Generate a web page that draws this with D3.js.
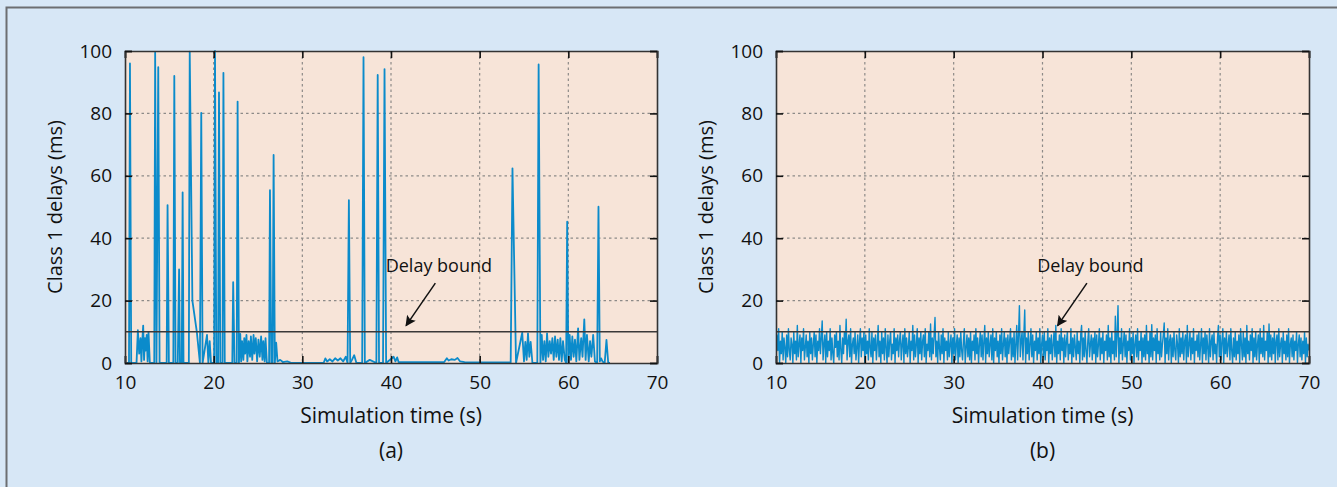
<!DOCTYPE html>
<html>
<head>
<meta charset="utf-8">
<script src="https://cdn.jsdelivr.net/npm/d3@7"></script>
<style>
  body { margin: 0; background: #d7e7f6; overflow: hidden; }
  text { font-family: "Open Sans", sans-serif; fill: #111; }
</style>
</head>
<body>
<script>
// ---- data ----
var xTicks = [10, 20, 30, 40, 50, 60, 70];
var yTicks = [0, 20, 40, 60, 80, 100];
var delayBound = 10;
var panelLabels = ["(a)", "(b)"];
var xTitle = "Simulation time (s)";
var yTitle = "Class 1 delays (ms)";
var boundText = "Delay bound";
var boundLabelAt = [45.4, 31];
var arrowFrom = [45.0, 25.6];
var arrowTo = [41.7, 12];

// (a) sparse delays with big spikes
var timesA = [10.2, 10.45, 10.56, 10.7, 11.3, 11.45, 11.6, 11.75, 11.85, 11.95, 12.05, 12.15, 12.25, 12.35, 12.45, 12.55, 12.65, 12.8,
  13.3, 13.4, 13.55, 13.75, 13.9, 14.7, 14.8, 14.95, 15.45, 15.56, 15.7, 15.95, 16.1, 16.2, 16.4, 16.5, 16.6,
  17.2, 17.3, 17.6, 18.1, 18.45, 18.6, 18.75, 19.25, 19.4, 19.55, 19.7, 20.05, 20.15, 20.3, 20.5, 20.6, 20.75,
  21.0, 21.1, 21.25, 22.1, 22.2, 22.35, 22.6, 22.7, 22.85, 23.0, 23.1, 23.2, 23.35, 23.45, 23.55, 23.7, 23.8,
  23.95, 24.1, 24.2, 24.35, 24.5, 24.6, 24.75, 24.9, 25.05, 25.2, 25.35, 25.5, 25.6, 25.75, 25.85, 26.0,
  26.25, 26.35, 26.5, 26.65, 26.76, 26.9, 27.05, 27.2, 27.5, 27.8, 28.3, 28.8, 29.2, 32.4, 32.6, 32.8, 33.1,
  33.4, 33.7, 34.0, 34.3, 34.6, 34.9, 35.1, 35.25, 35.4, 35.6, 35.85, 36.1, 36.75, 36.9, 37.05, 37.6, 38.35,
  38.5, 38.65, 39.1, 39.27, 39.45, 40.3, 40.5, 40.7, 40.85, 41.2, 46.0, 46.3, 46.5, 46.8, 47.2, 47.5, 47.8,
  48.3, 53.5, 53.7, 54.1, 54.8, 55.0, 55.15, 55.3, 55.45, 55.6, 55.75, 55.95, 56.5, 56.65, 56.85, 57.0, 57.15,
  57.3, 57.45, 57.6, 57.75, 57.9, 58.05, 58.2, 58.35, 58.5, 58.65, 58.8, 58.95, 59.1, 59.25, 59.4, 59.6, 59.75,
  59.87, 60.0, 60.15, 60.3, 60.45, 60.6, 60.75, 60.9, 61.1, 61.25, 61.45, 61.6, 61.8, 61.95, 62.1, 62.3, 62.45,
  62.6, 62.8, 63.0, 63.25, 63.4, 63.55, 63.7, 63.85, 64.1, 64.3, 64.5, 64.7];
var delaysA = [0, 0, 96, 0, 0, 10.5, 3, 8, 0.5, 7, 12, 1, 8, 4, 9, 0.5, 10, 0,
  0, 99.5, 0, 94.8, 0, 0, 50.6, 0, 0, 92, 0, 0, 30, 0, 0, 54.7, 0,
  0, 99.8, 20, 10, 0, 80.2, 0, 9, 0, 7, 0, 0, 100, 0, 0, 86.7, 0,
  0, 93, 0, 0, 25.9, 0, 0, 83.8, 0, 9.3, 0.5, 7, 1, 8, 3, 9, 0.5,
  7, 2, 8.5, 1, 9, 3, 8, 0.5, 7.5, 2, 8.5, 1, 7, 0.5, 8, 0,
  0, 55.4, 0, 0, 66.7, 0, 6.5, 0.5, 1, 0.3, 0.5, 0, 0, 0, 1.5, 0.5, 1.2,
  0.5, 1.5, 0.8, 1.5, 0.5, 2, 0, 52.2, 0, 1, 2.5, 0, 0, 98, 0, 1, 0,
  92.3, 0, 0, 94.2, 0, 2, 0.5, 1.8, 0.3, 0.3, 0.3, 1.5, 0.8, 1.2, 1, 1.6, 0.5,
  0.3, 0.2, 62.4, 0, 9.7, 0.5, 6.8, 1, 9.5, 2, 6.8, 0, 0, 95.7, 0, 9, 1,
  7, 0.5, 9.5, 2, 7, 3, 8, 1, 8.5, 2, 7.5, 1, 8, 0.5, 7, 1, 0,
  45.3, 0, 9, 1, 8.5, 2, 7.5, 0.5, 11.1, 1, 8, 2, 14, 1, 9, 0.5, 7,
  2, 9, 0.5, 0, 50.1, 0.5, 1.5, 0.5, 0, 7.4, 0, 0];

// (b) dense delays, one sample every 0.1 s from 10 s (one row = 2 s)
var sampleStartB = 10, sampleStepB = 0.1;
var delaysB = [
  2, 9, 4, 11, 0, 7, 3, 10, 1, 8, 5, 0, 9, 2, 11, 4, 1, 8, 6, 0,
  10, 3, 7, 1, 12, 2, 6, 9, 0, 8, 4, 11, 1, 5, 9, 2, 7, 0, 10, 3,
  8, 1, 6, 10, 2, 9, 0, 7, 4, 11, 3, 8, 13.5, 1, 6, 9, 0, 10, 2, 7,
  4, 11, 1, 8, 3, 0, 9, 5, 10, 2, 7, 1, 12, 4, 0, 8, 3, 10, 6, 14,
  1, 7, 9, 2, 11, 0, 6, 8, 3, 10, 1, 5, 9, 0, 7, 11, 2, 8, 4, 10,
  0, 9, 3, 7, 1, 11, 5, 2, 10, 0, 8, 4, 9, 1, 6, 12, 2, 7, 0, 10,
  3, 8, 1, 11, 5, 0, 9, 2, 7, 10, 1, 6, 3, 11, 0, 8, 4, 9, 2, 7,
  10, 1, 6, 9, 0, 11, 3, 8, 2, 5, 10, 0, 7, 4, 12, 1, 9, 2, 6, 11,
  0, 8, 3, 10, 1, 7, 9, 2, 11, 0, 6, 4, 10, 2, 12.5, 1, 8, 3, 9, 14.6,
  2, 7, 0, 10, 5, 1, 9, 3, 11, 0, 8, 4, 7, 1, 10, 2, 6, 9, 0, 8,
  3, 11, 1, 6, 9, 0, 8, 2, 10, 4, 1, 7, 11, 0, 5, 9, 2, 8, 1, 10,
  0, 7, 4, 9, 1, 11, 3, 8, 0, 6, 10, 2, 9, 1, 7, 12, 0, 8, 3, 10,
  2, 6, 9, 1, 11, 0, 8, 4, 10, 2, 7, 0, 9, 3, 11, 1, 6, 10, 2, 8,
  0, 9, 3, 7, 11, 1, 8, 2, 10, 0, 6, 12, 1, 9, 18.4, 2, 7, 10, 1, 9,
  17, 0, 8, 3, 10, 1, 6, 11, 2, 9, 0, 7, 4, 10, 1, 8, 3, 11, 0, 6,
  9, 2, 10, 1, 7, 4, 11, 0, 8, 3, 9, 1, 6, 10, 2, 12, 0, 7, 3, 9,
  1, 11, 4, 8, 0, 9, 2, 7, 10, 1, 6, 3, 11, 0, 8, 2, 9, 5, 1, 10,
  3, 7, 0, 9, 12, 1, 8, 2, 10, 4, 0, 7, 11, 2, 6, 9, 1, 8, 3, 10,
  0, 9, 2, 6, 11, 1, 8, 3, 10, 0, 7, 4, 9, 1, 12, 2, 8, 0, 10, 3,
  7, 1, 15, 2, 9, 18.4, 0, 8, 3, 11, 1, 6, 10, 2, 9, 0, 7, 4, 11, 1,
  8, 3, 10, 0, 6, 9, 2, 11, 1, 7, 4, 10, 0, 8, 2, 9, 1, 12, 3, 7,
  0, 10, 2, 12.3, 1, 8, 4, 9, 0, 11, 3, 7, 1, 10, 2, 6, 9, 12.8, 0, 8,
  3, 11, 1, 7, 9, 0, 8, 2, 10, 4, 1, 9, 6, 0, 11, 2, 8, 3, 10, 1,
  7, 9, 0, 12, 2, 6, 10, 1, 8, 3, 11, 0, 7, 4, 9, 2, 10, 1, 6, 11,
  0, 8, 3, 10, 1, 9, 5, 0, 11, 2, 7, 9, 1, 10, 3, 6, 0, 8, 12, 2,
  9, 1, 7, 11, 0, 8, 3, 10, 2, 6, 9, 1, 11, 4, 0, 8, 2, 10, 1, 7,
  3, 9, 0, 11, 6, 1, 10, 2, 8, 0, 12, 3, 7, 1, 9, 4, 11, 0, 8, 2,
  10, 1, 6, 9, 0, 11, 3, 8, 2, 12, 1, 7, 4, 10, 0, 12.5, 2, 9, 1, 8,
  3, 10, 0, 7, 9, 1, 11, 2, 6, 8, 0, 10, 3, 7, 1, 9, 2, 11, 0, 6,
  8, 2, 9, 1, 7, 4, 10, 0, 6, 9, 2, 8, 1, 7, 3, 10, 0, 8, 2, 6,
  4];

var seriesA = timesA.map(function(t, i){ return [t, delaysA[i]]; });
var seriesB = delaysB.map(function(v, i){ return [sampleStartB + i * sampleStepB, v]; });

var W = 1337, H = 487;
var svg = d3.select("body").append("svg").attr("width", W).attr("height", H);

// outer frame (cropped on right / bottom like the figure)
svg.append("rect").attr("x", 6.5).attr("y", 7.5).attr("width", W + 20).attr("height", H + 20)
   .attr("fill", "#d7e7f6").attr("stroke", "#6c6e71").attr("stroke-width", 2);

var defs = svg.append("defs");
defs.append("marker").attr("id", "arrowhead")
    .attr("viewBox", "0 0 10 10").attr("refX", 9).attr("refY", 5)
    .attr("markerWidth", 8).attr("markerHeight", 7).attr("orient", "auto")
  .append("path").attr("d", "M0,0 L10,5 L0,10 L2,5 z").attr("fill", "#111");

function styleAxis(sel){
  sel.select(".domain").attr("stroke", "#333").attr("stroke-width", 1.6);
  sel.selectAll(".tick line").attr("stroke", "#111").attr("stroke-width", 1.6);
  sel.selectAll(".tick text").style("font-size", "19px").attr("fill", "#111");
}

function buildPanel(series, left, right, label, id, lineWidth){
  var top = 51, bottom = 363;
  var x = d3.scaleLinear().domain([10, 70]).range([left, right]);
  var y = d3.scaleLinear().domain([0, 100]).range([bottom, top]);

  var g = svg.append("g");

  g.append("rect").attr("x", left).attr("y", top)
   .attr("width", right - left).attr("height", bottom - top)
   .attr("fill", "#f7e4d8");

  // dotted grid
  g.selectAll(".gx").data(xTicks.slice(1, -1)).enter().append("line")
   .attr("x1", function(d){ return x(d); }).attr("x2", function(d){ return x(d); })
   .attr("y1", top).attr("y2", bottom)
   .attr("stroke", "#8d8a88").attr("stroke-width", 1.2).attr("stroke-dasharray", "2.5,3");
  g.selectAll(".gy").data(yTicks.slice(1, -1)).enter().append("line")
   .attr("y1", function(d){ return y(d); }).attr("y2", function(d){ return y(d); })
   .attr("x1", left).attr("x2", right)
   .attr("stroke", "#8d8a88").attr("stroke-width", 1.2).attr("stroke-dasharray", "2.5,3");

  defs.append("clipPath").attr("id", "clip" + id)
    .append("rect").attr("x", left).attr("y", top - 1).attr("width", right - left).attr("height", bottom - top + 3);

  var line = d3.line().x(function(d){ return x(d[0]); }).y(function(d){ return y(d[1]); });
  g.append("path").datum(series).attr("d", line)
   .attr("clip-path", "url(#clip" + id + ")")
   .attr("fill", "none").attr("stroke", "#0b8bcb").attr("stroke-width", lineWidth)
   .attr("stroke-linejoin", "round");

  // delay bound
  g.append("line").attr("x1", left).attr("x2", right)
   .attr("y1", y(delayBound)).attr("y2", y(delayBound))
   .attr("stroke", "#3b3939").attr("stroke-width", 1.6);

  // axes, inward ticks on all four sides
  g.append("g").attr("transform", "translate(0," + bottom + ")")
   .call(d3.axisBottom(x).tickValues(xTicks).tickSize(-7).tickPadding(13))
   .call(styleAxis);
  g.append("g").attr("transform", "translate(0," + top + ")")
   .call(d3.axisTop(x).tickValues(xTicks).tickSize(-7).tickFormat(""))
   .call(styleAxis);
  g.append("g").attr("transform", "translate(" + left + ",0)")
   .call(d3.axisLeft(y).tickValues(yTicks).tickSize(-7).tickPadding(13))
   .call(styleAxis);
  g.append("g").attr("transform", "translate(" + right + ",0)")
   .call(d3.axisRight(y).tickValues(yTicks).tickSize(-7).tickFormat(""))
   .call(styleAxis);

  g.append("text").attr("x", (left + right) / 2).attr("y", 423)
   .attr("text-anchor", "middle").style("font-size", "21px").text(xTitle);
  g.append("text").attr("x", (left + right) / 2).attr("y", 458)
   .attr("text-anchor", "middle").style("font-size", "21px").text(label);
  g.append("text").attr("transform", "translate(" + (left - 63) + "," + ((top + bottom) / 2) + ") rotate(-90)")
   .attr("text-anchor", "middle").style("font-size", "20px").text(yTitle);

  // annotation
  g.append("text").attr("x", x(boundLabelAt[0])).attr("y", y(boundLabelAt[1]) + 6)
   .attr("text-anchor", "middle").style("font-size", "18px").text(boundText);
  g.append("line")
   .attr("x1", x(arrowFrom[0])).attr("y1", y(arrowFrom[1]))
   .attr("x2", x(arrowTo[0])).attr("y2", y(arrowTo[1]))
   .attr("stroke", "#111").attr("stroke-width", 1.5)
   .attr("marker-end", "url(#arrowhead)");
}

buildPanel(seriesA, 125, 657, panelLabels[0], "a", 1.8);
buildPanel(seriesB, 776, 1309, panelLabels[1], "b", 1.4);
</script>
</body>
</html>
